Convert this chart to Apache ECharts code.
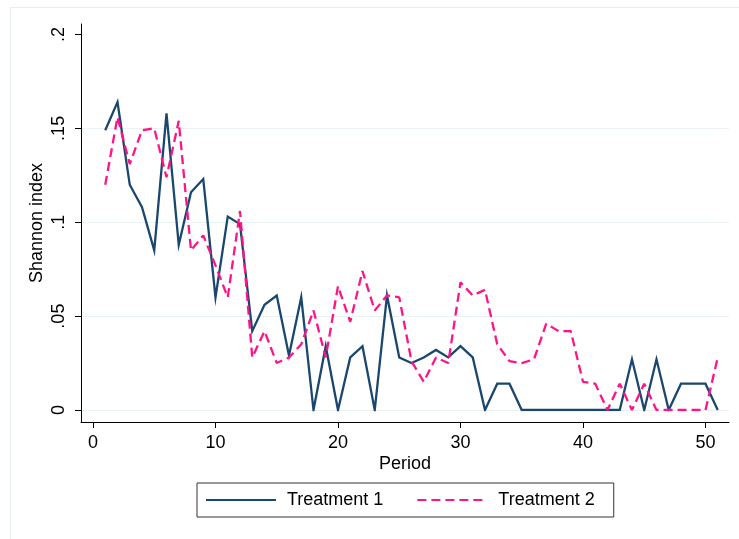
<!DOCTYPE html>
<html>
<head>
<meta charset="utf-8">
<script src="https://cdn.jsdelivr.net/npm/echarts@6/dist/echarts.min.js"></script>
<style>
html,body{margin:0;padding:0;background:#fff;}
#chart{width:739px;height:539px;}
</style>
</head>
<body>
<div id="chart"></div>
<script>
const periods = [1,2,3,4,5,6,7,8,9,10,11,12,13,14,15,16,17,18,19,20,21,22,23,24,25,26,27,28,29,30,31,32,33,34,35,36,37,38,39,40,41,42,43,44,45,46,47,48,49,50,51];
const treatment1 = [0.149,0.164,0.120,0.108,0.085,0.158,0.088,0.116,0.123,0.060,0.103,0.099,0.042,0.056,0.061,0.029,0.060,0,0.034,0,0.028,0.034,0,0.061,0.028,0.025,0.028,0.032,0.028,0.034,0.028,0,0.014,0.014,0,0,0,0,0,0,0,0,0,0.027,0,0.027,0,0.014,0.014,0.014,0];
const treatment2 = [0.120,0.156,0.131,0.149,0.150,0.124,0.154,0.085,0.093,0.077,0.060,0.106,0.028,0.042,0.025,0.028,0.035,0.053,0.028,0.066,0.047,0.074,0.053,0.061,0.060,0.026,0.015,0.028,0.025,0.068,0.061,0.064,0.035,0.026,0.025,0.027,0.046,0.042,0.042,0.015,0.014,0,0.014,0,0.014,0,0,0,0,0,0.028];
const xTicks = [0,10,20,30,40,50];
const seriesNames = ['Treatment 1','Treatment 2'];
const xTitle = 'Period';
const yTitle = 'Shannon index';

const FONT = '"Liberation Sans", Arial, Helvetica, sans-serif';
const pairs = (ys) => periods.map((p, i) => [p, ys[i]]);

const chart = echarts.init(document.getElementById('chart'), null, {renderer: 'canvas'});
chart.setOption({
  backgroundColor: '#ffffff',
  animation: false,
  textStyle: {fontFamily: FONT},
  graphic: [{
    type: 'rect', left: 8, top: 5, z: -10,
    shape: {width: 760, height: 560},
    style: {fill: 'none', stroke: '#e6eeef', lineWidth: 1}
  }],
  grid: [
    // frame (axis lines + titles)
    {left: 81, right: 10, top: 24, bottom: 117},
    // gridlines
    {left: 81, right: 10, top: 34.5, bottom: 129},
    // data
    {left: 93, right: 10, top: 34.5, bottom: 129}
  ],
  xAxis: [
    {gridIndex: 0, type: 'value', min: 0, max: 1,
      name: xTitle, nameLocation: 'middle', nameGap: 33,
      nameTextStyle: {fontSize: 18, color: '#000', fontFamily: FONT},
      axisLine: {show: true, onZero: false, lineStyle: {color: '#000', width: 1}}, axisTick: {show: false}, axisLabel: {show: false}, splitLine: {show: false}},
    {gridIndex: 1, type: 'value', min: 0, max: 1, show: false},
    {gridIndex: 2, type: 'value', min: 0, max: 51.92, offset: 12,
      axisLine: {show: false, onZero: false},
      axisTick: {show: true, length: 6, lineStyle: {color: '#000'}, customValues: xTicks},
      axisLabel: {fontSize: 18, color: '#000', margin: 12, fontFamily: FONT, customValues: xTicks},
      splitLine: {show: false}}
  ],
  yAxis: [
    {gridIndex: 0, type: 'value', min: 0, max: 1,
      name: yTitle, nameLocation: 'middle', nameGap: 35, nameMoveOverlap: false,
      nameTextStyle: {fontSize: 18, color: '#000', fontFamily: FONT},
      axisLine: {show: true, onZero: false, lineStyle: {color: '#000', width: 1}}, axisTick: {show: false}, axisLabel: {show: false}, splitLine: {show: false}},
    {gridIndex: 1, type: 'value', min: 0, max: 0.2, interval: 0.05,
      axisLine: {show: false}, axisTick: {show: false}, axisLabel: {show: false},
      splitLine: {show: true, showMaxLine: false, lineStyle: {color: '#eaf2f3', width: 1}}},
    {gridIndex: 2, type: 'value', min: 0, max: 0.2, interval: 0.05, offset: 12,
      axisLine: {show: false, onZero: false},
      axisTick: {show: true, length: 6, lineStyle: {color: '#000'}},
      axisLabel: {fontSize: 18, color: '#000', rotate: 90, margin: 13, fontFamily: FONT,
        formatter: v => v === 0 ? '0' : String(+v.toFixed(3)).replace(/^0/, '')},
      splitLine: {show: false}}
  ],
  legend: {
    left: 197, top: 483,
    orient: 'horizontal',
    itemWidth: 70, itemHeight: 14, itemGap: 33,
    padding: [8, 19, 8, 8],
    borderColor: '#333', borderWidth: 1,
    itemStyle: {opacity: 0},
    textStyle: {fontSize: 18, color: '#000', fontFamily: FONT, padding: [0, 0, 0, 6]},
    data: seriesNames
  },
  series: [
    {name: seriesNames[0], type: 'line', xAxisIndex: 2, yAxisIndex: 2, data: pairs(treatment1),
      symbol: 'none', color: '#1a476f',
      lineStyle: {color: '#1a476f', width: 2.3, join: 'miter', miterLimit: 10}},
    {name: seriesNames[1], type: 'line', xAxisIndex: 2, yAxisIndex: 2, data: pairs(treatment2),
      symbol: 'none', color: '#ff1488',
      lineStyle: {color: '#ff1488', width: 2.3, type: [9, 5]}}
  ]
});
</script>
</body>
</html>
